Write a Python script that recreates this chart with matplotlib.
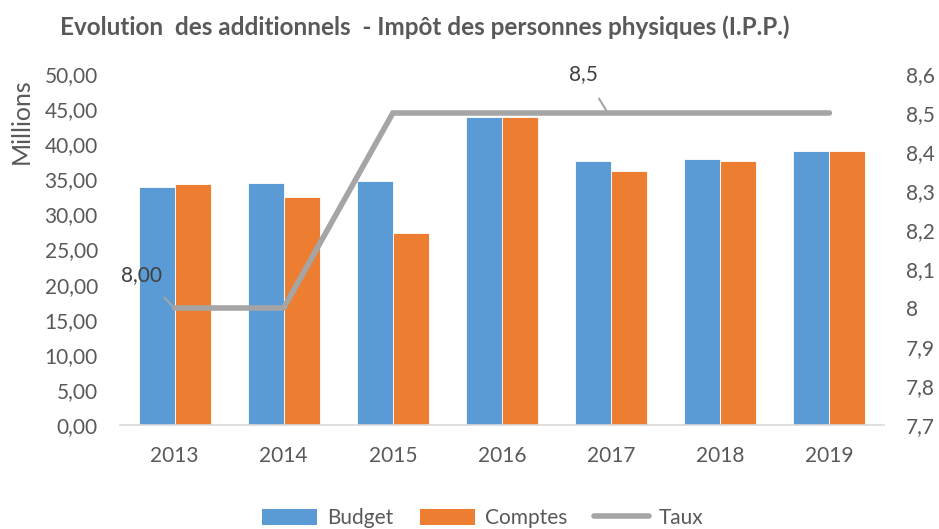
import matplotlib
matplotlib.use("Agg")
import matplotlib.pyplot as plt
import numpy as np
from matplotlib.lines import Line2D
from matplotlib.patches import Patch

years = ["2013", "2014", "2015", "2016", "2017", "2018", "2019"]
budget = [33.95, 34.5, 34.75, 43.9, 37.65, 37.9, 39.05]
comptes = [34.3, 32.5, 27.35, 43.9, 36.2, 37.65, 39.05]
taux = [8.0, 8.0, 8.5, 8.5, 8.5, 8.5, 8.5]
left_ticks = [0, 5, 10, 15, 20, 25, 30, 35, 40, 45, 50]
right_ticks = [7.7, 7.8, 7.9, 8.0, 8.1, 8.2, 8.3, 8.4, 8.5, 8.6]

BLUE = "#5B9BD5"
ORANGE = "#ED7D31"
GRAY = "#A5A5A5"
TXT = "#595959"

plt.rcParams["font.family"] = ["Lato", "DejaVu Sans"]

fig = plt.figure(figsize=(9.39, 5.29), dpi=100)
W, H = 939, 529
ax = fig.add_axes([120 / W, 1 - 425 / H, (884 - 120) / W, (425 - 74) / H])
x = np.arange(len(years))
bw = 0.33
ax.bar(x - bw / 2, budget, bw, color=BLUE, edgecolor="white", linewidth=0.6, zorder=2)
ax.bar(x + bw / 2, comptes, bw, color=ORANGE, edgecolor="white", linewidth=0.6, zorder=2)
ax.set_xlim(-0.5, len(years) - 0.5)
ax.set_ylim(0, 50)
ax.set_yticks(left_ticks)
ax.set_yticklabels([f"{v:.2f}".replace(".", ",") for v in left_ticks])
ax.set_xticks(x)
ax.set_xticklabels(years)
for s in ["top", "left", "right"]:
    ax.spines[s].set_visible(False)
ax.spines["bottom"].set_color("#D9D9D9")
ax.spines["bottom"].set_linewidth(1.2)
ax.tick_params(axis="both", length=0, labelsize=15, colors=TXT)
ax.tick_params(axis="y", pad=16)
ax.tick_params(axis="x", pad=15)
ax.set_ylabel("Millions", fontsize=18, color=TXT)
ax.yaxis.set_label_coords(-0.114, 0.865)

ax2 = ax.twinx()
ax2.plot(x, taux, color=GRAY, linewidth=4, solid_capstyle="round", solid_joinstyle="miter", zorder=3)
ax2.set_ylim(7.7, 8.6)
ax2.set_yticks(right_ticks)
ax2.set_yticklabels([("8" if abs(v - 8) < 1e-9 else f"{v:.1f}".replace(".", ",")) for v in right_ticks])
for s in ["top", "left", "right", "bottom"]:
    ax2.spines[s].set_visible(False)
ax2.tick_params(axis="y", length=0, labelsize=15, colors=TXT, pad=16)
ax2.set_xlim(-0.5, len(years) - 0.5)

# data labels with leader lines
ax2.annotate("8,00", xy=(x[0], taux[0]), xytext=(x[0] - 0.30, 8.085),
             fontsize=15, color="#404040", ha="center", va="center",
             arrowprops=dict(arrowstyle="-", color=GRAY, lw=1.5, shrinkA=10, shrinkB=0))
ax2.annotate("8,5", xy=(x[3] + 0.97, taux[3]), xytext=(x[3] + 0.75, 8.6),
             fontsize=15, color="#404040", ha="center", va="center",
             arrowprops=dict(arrowstyle="-", color=GRAY, lw=1.5, shrinkA=10, shrinkB=2))

fig.text(425 / W, 1 - 27 / H, "Evolution  des additionnels  - Impôt des personnes physiques (I.P.P.)",
         ha="center", va="center", fontsize=17.5, fontweight="bold", color=TXT)

handles = [Patch(facecolor=BLUE), Patch(facecolor=ORANGE), Line2D([], [], color=GRAY, lw=4, solid_capstyle="round")]
fig.legend(handles, ["Budget", "Comptes", "Taux"], loc="center", bbox_to_anchor=(483 / W, 1 - 518 / H),
           ncol=3, frameon=False, fontsize=15, labelcolor=TXT, handlelength=2.6, handleheight=0.8,
           columnspacing=1.3, handletextpad=0.5)

fig.savefig("out.png", dpi=100)
